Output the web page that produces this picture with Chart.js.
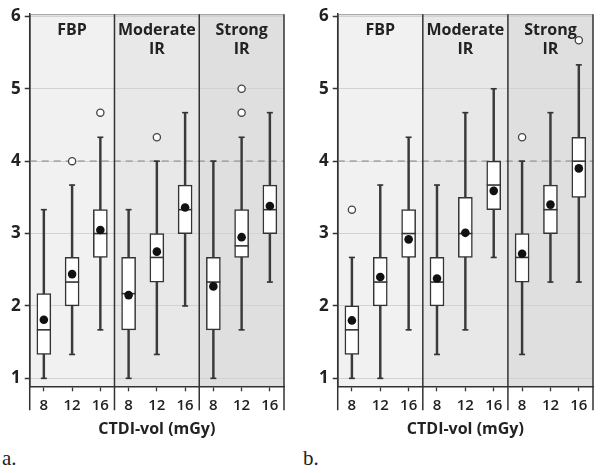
<!DOCTYPE html>
<html>
<head>
<meta charset="utf-8">
<script src="https://cdn.jsdelivr.net/npm/chart.js@4"></script>
<style>
  body { margin: 0; background: #fff; width: 601px; height: 473px; position: relative; overflow: hidden; }
  .panel { position: absolute; top: 0; height: 445px; }
  .tag { position: absolute; top: 446px; font: 21px "Liberation Serif", serif; color: #222; }
</style>
</head>
<body>
<div class="panel" style="left:0;width:300px"><canvas id="chartA"></canvas></div>
<div class="panel" style="left:300px;width:301px"><canvas id="chartB"></canvas></div>
<div class="tag" style="left:2px">a.</div>
<div class="tag" style="left:303px">b.</div>
<script>
// categories
const groups = [['FBP'], ['Moderate', 'IR'], ['Strong', 'IR']]
const doses = ['8', '12', '16', '8', '12', '16', '8', '12', '16']
const yTicks = [1, 2, 3, 4, 5, 6]
const refLine = 4

// panel a
const aLow  = [1.00, 1.33, 1.67, 1.00, 1.33, 2.00, 1.00, 1.67, 2.33]
const aQ1   = [1.33, 2.00, 2.67, 1.67, 2.33, 3.00, 1.67, 2.67, 3.00]
const aMed  = [1.67, 2.33, 3.00, 2.17, 2.67, 3.33, 2.33, 2.83, 3.33]
const aQ3   = [2.17, 2.67, 3.33, 2.67, 3.00, 3.67, 2.67, 3.33, 3.67]
const aHigh = [3.33, 3.67, 4.33, 3.33, 4.00, 4.67, 4.00, 4.33, 4.67]
const aMean = [1.81, 2.44, 3.05, 2.15, 2.75, 3.36, 2.27, 2.95, 3.38]
const aOut1 = [null, 4.00, 4.67, null, 4.33, null, null, 4.67, null]
const aOut2 = [null, null, null, null, null, null, null, 5.00, null]

// panel b
const bLow  = [1.00, 1.00, 1.67, 1.33, 1.67, 2.67, 1.33, 2.33, 2.33]
const bQ1   = [1.33, 2.00, 2.67, 2.00, 2.67, 3.33, 2.33, 3.00, 3.50]
const bMed  = [1.67, 2.33, 3.00, 2.33, 3.00, 3.67, 2.67, 3.33, 4.00]
const bQ3   = [2.00, 2.67, 3.33, 2.67, 3.50, 4.00, 3.00, 3.67, 4.33]
const bHigh = [2.67, 3.67, 4.33, 3.67, 4.67, 5.00, 4.00, 4.67, 5.33]
const bMean = [1.80, 2.40, 2.92, 2.38, 3.01, 3.59, 2.72, 3.40, 3.90]
const bOut1 = [3.33, null, null, null, null, null, 4.33, null, 5.67]
const bOut2 = [null, null, null, null, null, null, null, null, null]

const FONT = '"Open Sans", "DejaVu Sans", sans-serif'
const groupFills = ['#f1f1f1', '#e8e8e8', '#dfdfdf']

// backgrounds, reference line, dividers and group titles
const panelPlugin = {
  id: 'panel',
  beforeDraw(chart) {
    const ctx = chart.ctx, x = chart.scales.x, area = chart.chartArea
    ctx.save()
    groups.forEach(function(g, i){
      const l = x.getPixelForValue(i * 3 - 0.5)
      const r = x.getPixelForValue(i * 3 + 2.5)
      ctx.fillStyle = groupFills[i]
      ctx.fillRect(l, area.top, r - l, area.bottom - area.top)
    })
    ctx.restore()
  },
  beforeDatasetsDraw(chart) {
    const ctx = chart.ctx, y = chart.scales.y, area = chart.chartArea
    const py = y.getPixelForValue(refLine)
    ctx.save()
    ctx.strokeStyle = '#a9a9a9'
    ctx.lineWidth = 1.6
    ctx.setLineDash([7, 5])
    ctx.beginPath()
    ctx.moveTo(area.left, py)
    ctx.lineTo(area.right, py)
    ctx.stroke()
    ctx.restore()
  },
  afterDatasetDraw(chart, args) {
    const ds = chart.data.datasets[args.index]
    const ctx = chart.ctx, x = chart.scales.x, y = chart.scales.y
    ctx.save()
    ctx.strokeStyle = '#333'
    ctx.lineWidth = 1.6
    if (ds.caps) {
      ds.data.forEach(function(d, i){
        const px = x.getPixelForValue(i)
        d.forEach(function(v){
          const py = y.getPixelForValue(v)
          ctx.beginPath()
          ctx.moveTo(px - 3, py)
          ctx.lineTo(px + 3, py)
          ctx.stroke()
        })
      })
    }
    if (ds.medians) {
      ds.medians.forEach(function(m, i){
        const px = x.getPixelForValue(i)
        const py = y.getPixelForValue(m)
        ctx.beginPath()
        ctx.moveTo(px - 7, py)
        ctx.lineTo(px + 7, py)
        ctx.stroke()
      })
    }
    ctx.restore()
  },
  afterDraw(chart) {
    const ctx = chart.ctx, x = chart.scales.x, area = chart.chartArea
    ctx.save()
    // top border
    ctx.strokeStyle = '#9a9a9a'
    ctx.lineWidth = 1
    ctx.beginPath()
    ctx.moveTo(area.left, area.top + 0.5)
    ctx.lineTo(area.right, area.top + 0.5)
    ctx.stroke()
    // group dividers, running down through the tick labels
    ctx.strokeStyle = '#333'
    ctx.lineWidth = 1.5
    ;[-0.5, 2.5, 5.5, 8.5].forEach(function(v){
      const px = x.getPixelForValue(v)
      ctx.beginPath()
      ctx.moveTo(px, area.top)
      ctx.lineTo(px, area.bottom + 24)
      ctx.stroke()
    })
    // group titles
    ctx.fillStyle = '#222'
    ctx.font = 'bold 16px ' + FONT
    ctx.textAlign = 'center'
    ctx.textBaseline = 'alphabetic'
    groups.forEach(function(g, i){
      const px = x.getPixelForValue(i * 3 + 1)
      g.forEach(function(line, j){
        ctx.fillText(line, px, area.top + 21 + j * 19)
      })
    })
    ctx.restore()
  }
}

function outlierSet(data) {
  return {
    type: 'line', data: data, showLine: false, order: 1,
    pointRadius: 3.6, pointBackgroundColor: '#fff', pointBorderColor: '#444', pointBorderWidth: 1.3
  }
}

function makeChart(id, low, q1, med, q3, high, mean, out1, out2, pad) {
  return new Chart(document.getElementById(id), {
    type: 'bar',
    data: {
      labels: doses,
      datasets: [
        {
          type: 'line', data: mean, showLine: false, order: 0,
          pointRadius: 4.3, pointBackgroundColor: '#111', pointBorderColor: '#111', pointBorderWidth: 0
        },
        outlierSet(out1),
        outlierSet(out2),
        {
          data: q1.map(function(v, i){ return [v, q3[i]] }),
          medians: med,
          backgroundColor: '#fff', borderColor: '#333', borderWidth: 1.5, borderSkipped: false,
          barThickness: 14, grouped: false, order: 2
        },
        {
          data: low.map(function(v, i){ return [v, high[i]] }),
          caps: true,
          backgroundColor: '#3a3a3a', borderWidth: 0,
          barThickness: 1.8, grouped: false, order: 3
        }
      ]
    },
    options: {
      responsive: true,
      maintainAspectRatio: false,
      animation: false,
      layout: { padding: pad },
      plugins: { legend: { display: false }, tooltip: { enabled: false } },
      scales: {
        x: {
          offset: true,
          grid: { offset: false, drawOnChartArea: false, tickLength: 5, tickColor: '#333', tickWidth: 1.3 },
          border: { color: '#333', width: 1.5 },
          ticks: { color: '#222', font: { family: FONT, size: 15, weight: '600', lineHeight: 1.1 }, padding: 6, maxRotation: 0, autoSkip: false },
          title: { display: true, text: 'CTDI-vol (mGy)', color: '#222', font: { family: FONT, size: 16, weight: 'bold' }, padding: { top: 0, bottom: 0 } }
        },
        y: {
          min: 0.89,
          max: 6.03,
          afterBuildTicks: function(axis){ axis.ticks = yTicks.map(function(v){ return { value: v } }) },
          grid: { color: '#d2d2d2', tickColor: '#333', tickLength: 5, tickWidth: 1.5 },
          border: { color: '#333', width: 1.5 },
          ticks: { color: '#222', font: { family: FONT, size: 17, weight: 'bold' }, padding: 4 }
        }
      }
    },
    plugins: [panelPlugin]
  })
}

makeChart('chartA', aLow, aQ1, aMed, aQ3, aHigh, aMean, aOut1, aOut2, { left: 7, right: 16, top: 7, bottom: 6 })
makeChart('chartB', bLow, bQ1, bMed, bQ3, bHigh, bMean, bOut1, bOut2, { left: 15, right: 8, top: 7, bottom: 6 })
</script>
</body>
</html>
